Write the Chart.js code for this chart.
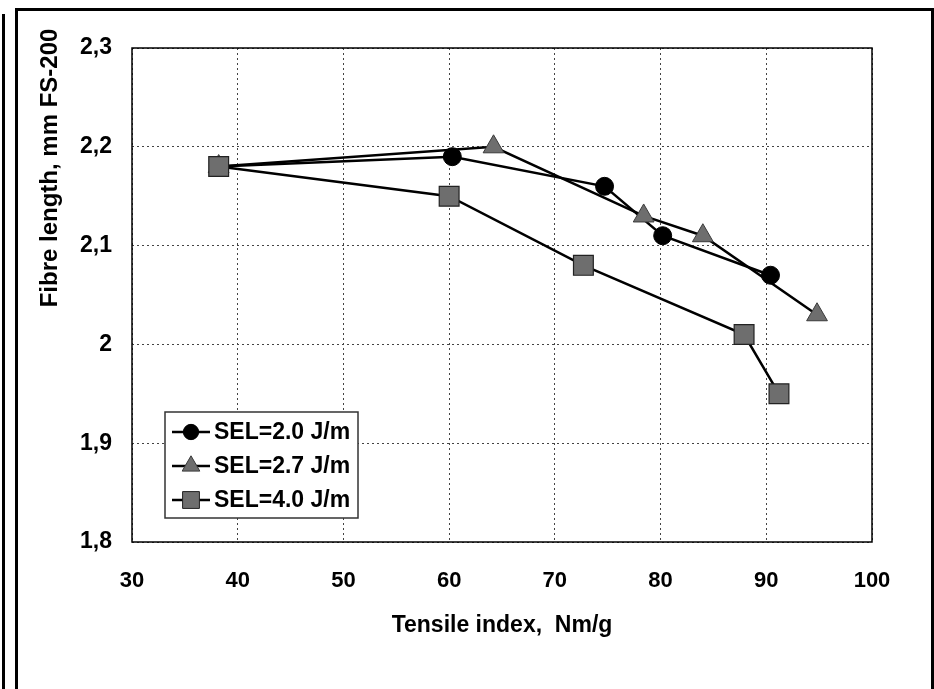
<!DOCTYPE html>
<html>
<head>
<meta charset="utf-8">
<title>Fibre length vs tensile index</title>
<script src="https://cdn.jsdelivr.net/npm/chart.js@4.4.1/dist/chart.umd.min.js"></script>
<style>
  html, body { margin: 0; padding: 0; background: #fff; overflow: hidden; }
  .wrap { position: relative; width: 934px; height: 689px; }
  .outer-line { position: absolute; left: 2px; top: 14px; width: 3px; height: 680px; background: #000; }
  .frame { position: absolute; left: 15px; top: 8px; width: 913px; height: 690px; border: 3px solid #000; border-bottom: none; }
  canvas { position: absolute; left: 0; top: 0; }
</style>
</head>
<body>
<div class="wrap">
  <div class="outer-line"></div>
  <div class="frame"></div>
  <canvas id="chart" width="934" height="689"></canvas>
</div>
<script>
// data
const seriesNames = ['SEL=2.0 J/m', 'SEL=2.7 J/m', 'SEL=4.0 J/m'];

const sel20x = [38.2, 60.3, 74.7, 80.2, 90.4];
const sel20y = [2.18, 2.19, 2.16, 2.11, 2.07];

const sel27x = [38.2, 64.2, 78.4, 84.0, 94.8];
const sel27y = [2.18, 2.20, 2.13, 2.11, 2.03];

const sel40x = [38.2, 60.0, 72.7, 87.9, 91.2];
const sel40y = [2.18, 2.15, 2.08, 2.01, 1.95];

const xTicks = [30, 40, 50, 60, 70, 80, 90, 100];
const yTicks = [1.8, 1.9, 2.0, 2.1, 2.2, 2.3];

const yTitle = 'Fibre length, mm FS-200';
const xTitle = 'Tensile index,  Nm/g';

const FONT = '"Liberation Sans", Arial, sans-serif';
const toPoints = (xs, ys) => xs.map((x, i) => ({ x: x, y: ys[i] }));

Chart.defaults.font.family = FONT;
Chart.defaults.color = '#000';

// solid box round the plot area
const plotBorder = {
    id: 'plotBorder',
    beforeDatasetsDraw(chart) {
        const a = chart.chartArea;
        const ctx = chart.ctx;
        ctx.save();
        ctx.strokeStyle = '#000';
        ctx.lineWidth = 1.5;
        ctx.strokeRect(a.left, a.top, a.right - a.left, a.bottom - a.top);
        ctx.restore();
    }
};

// y title sits high on the left, not centred on the plot
const yAxisTitle = {
    id: 'yAxisTitle',
    afterDraw(chart) {
        const ctx = chart.ctx;
        ctx.save();
        ctx.translate(50, 168);
        ctx.rotate(-Math.PI / 2);
        ctx.fillStyle = '#000';
        ctx.font = 'bold 24px ' + FONT;
        ctx.textAlign = 'center';
        ctx.textBaseline = 'middle';
        ctx.fillText(yTitle, 0, 0);
        ctx.restore();
    }
};

// legend box sitting inside the plot, lower left
const insideLegend = {
    id: 'insideLegend',
    afterDraw(chart) {
        const ctx = chart.ctx;
        const bx = 165, by = 412, bw = 193, bh = 106;
        ctx.save();
        ctx.fillStyle = '#fff';
        ctx.fillRect(bx, by, bw, bh);
        ctx.strokeStyle = '#333';
        ctx.lineWidth = 1.5;
        ctx.strokeRect(bx, by, bw, bh);

        chart.data.datasets.forEach((ds, i) => {
            const cy = by + 20 + i * 34;
            ctx.strokeStyle = '#000';
            ctx.lineWidth = 2.5;
            ctx.beginPath();
            ctx.moveTo(172, cy);
            ctx.lineTo(210, cy);
            ctx.stroke();

            ctx.fillStyle = ds.pointBackgroundColor;
            ctx.strokeStyle = ds.pointBorderColor;
            ctx.lineWidth = 1;
            Chart.helpers.drawPoint(ctx, {
                pointStyle: ds.pointStyle,
                rotation: 0,
                radius: ds.pointRadius * 0.85,
                borderWidth: 1
            }, 191, cy);

            ctx.fillStyle = '#000';
            ctx.font = 'bold 23px ' + FONT;
            ctx.textBaseline = 'middle';
            ctx.fillText(ds.label, 214, cy + 1);
        });
        ctx.restore();
    }
};

new Chart(document.getElementById('chart'), {
    type: 'scatter',
    data: {
        datasets: [
            {
                label: seriesNames[0],
                data: toPoints(sel20x, sel20y),
                showLine: true,
                borderColor: '#000',
                borderWidth: 2.5,
                pointStyle: 'circle',
                pointRadius: 9,
                pointBackgroundColor: '#000',
                pointBorderColor: '#000',
                pointBorderWidth: 1,
                order: 3
            },
            {
                label: seriesNames[1],
                data: toPoints(sel27x, sel27y),
                showLine: true,
                borderColor: '#000',
                borderWidth: 2.5,
                pointStyle: 'triangle',
                pointRadius: 12,
                pointBackgroundColor: '#6e6e6e',
                pointBorderColor: '#3a3a3a',
                pointBorderWidth: 1,
                order: 2
            },
            {
                label: seriesNames[2],
                data: toPoints(sel40x, sel40y),
                showLine: true,
                borderColor: '#000',
                borderWidth: 2.5,
                pointStyle: 'rect',
                pointRadius: 14,
                pointBackgroundColor: '#6e6e6e',
                pointBorderColor: '#222',
                pointBorderWidth: 1.2,
                order: 1
            }
        ]
    },
    options: {
        responsive: false,
        animation: false,
        layout: { padding: { top: 48, right: 62, bottom: 0, left: 0 } },
        plugins: {
            legend: { display: false },
            tooltip: { enabled: false }
        },
        scales: {
            x: {
                type: 'linear',
                min: xTicks[0],
                max: xTicks[xTicks.length - 1],
                afterFit: (s) => { s.height = 147; },
                afterBuildTicks: (s) => { s.ticks = xTicks.map(v => ({ value: v })); },
                ticks: {
                    padding: 26,
                    font: { size: 22, weight: 'bold' },
                    color: '#000'
                },
                grid: {
                    drawTicks: false,
                    color: '#444',
                    lineWidth: 1
                },
                border: { display: false, dash: [2, 3] },
                title: {
                    display: true,
                    text: xTitle,
                    font: { size: 23, weight: 'bold' },
                    color: '#000',
                    padding: { top: 0, bottom: 50 }
                }
            },
            y: {
                type: 'linear',
                min: yTicks[0],
                max: yTicks[yTicks.length - 1],
                afterFit: (s) => { s.width = 132; },
                afterBuildTicks: (s) => { s.ticks = yTicks.map(v => ({ value: v })); },
                ticks: {
                    padding: 20,
                    font: { size: 23, weight: 'bold' },
                    color: '#000',
                    callback: (v) => String(Math.round(v * 10) / 10).replace('.', ',')
                },
                grid: {
                    drawTicks: false,
                    color: '#444',
                    lineWidth: 1
                },
                border: { display: false, dash: [2, 3] },
                title: { display: false }
            }
        }
    },
    plugins: [plotBorder, yAxisTitle, insideLegend]
});
</script>
</body>
</html>
